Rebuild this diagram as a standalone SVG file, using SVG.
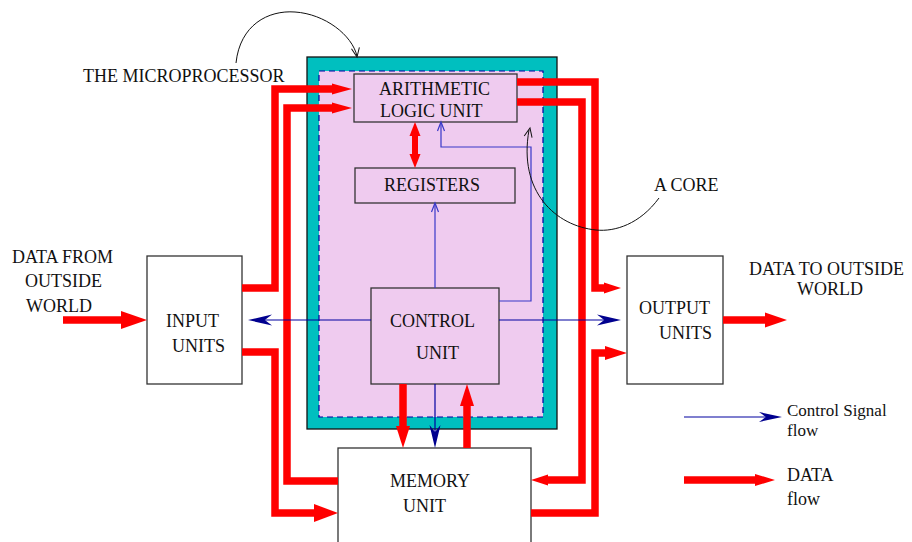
<svg xmlns="http://www.w3.org/2000/svg" xmlns:xlink="http://www.w3.org/1999/xlink" width="912" height="542" viewBox="0 0 912 542">
<style>
text{font-family:"Liberation Serif","Times New Roman",serif;font-size:18px;fill:#111}
.box{stroke:#333;stroke-width:1.3}
.pk{fill:#efcbef}
.wh{fill:#fff}
.red{fill:none;stroke:#ff0000;stroke-width:7.5;stroke-linejoin:miter;stroke-linecap:butt}
.blue{fill:none;stroke:#0000a0;stroke-width:1.2}
.blue2{fill:none;stroke:#3838c8;stroke-width:1.2}
.curve{fill:none;stroke:#111;stroke-width:1}
.sm{font-size:17px}
</style>
<defs>
<polygon id="rh" points="0,0 -1,-0.5 -1,0.5" fill="#ff0000"/>
<polygon id="bh" points="0,0 -1,-0.5 -0.7,0 -1,0.5" fill="#00008f"/>
<path id="ovb" d="M-9,-3.5 L0,0 L-9,3.5" fill="none" stroke="#3838c8" stroke-width="1.2"/>
<path id="ovk" d="M-9,-4 L0,0 L-9,4" fill="none" stroke="#111" stroke-width="1"/>
</defs>

<g id="microprocessor">
<rect x="307" y="57" width="250" height="372" fill="#00bfbf" stroke="#111" stroke-width="1.3"/>
<rect x="319" y="71" width="224" height="346" class="pk" stroke="#0000a0" stroke-width="1.2" stroke-dasharray="6,4"/>
</g>

<g id="alu"><rect x="354" y="74" width="163" height="48" class="box pk"/>
<text x="379" y="95">ARITHMETIC</text><text x="380" y="117">LOGIC UNIT</text></g>
<g id="registers"><rect x="355" y="168" width="160" height="35" class="box pk"/>
<text x="384" y="191">REGISTERS</text></g>
<g id="control"><rect x="371" y="288" width="128" height="96" class="box pk"/>
<text x="390" y="327">CONTROL</text><text x="416" y="359">UNIT</text></g>
<g id="memory"><rect x="338" y="448" width="193" height="110" class="box wh"/>
<text x="390" y="487">MEMORY</text><text x="403" y="512">UNIT</text></g>
<g id="input"><rect x="147" y="256" width="95" height="128" class="box wh"/>
<text x="166" y="327">INPUT</text><text x="172" y="352">UNITS</text></g>
<g id="output"><rect x="627" y="256" width="96" height="128" class="box wh"/>
<text x="639" y="314">OUTPUT</text><text x="659" y="339">UNITS</text></g>

<g id="labels">
<text x="83" y="82">THE MICROPROCESSOR</text>
<text x="654" y="191">A CORE</text>
<text x="12" y="263">DATA FROM</text>
<text x="25" y="287">OUTSIDE</text>
<text x="26" y="312">WORLD</text>
<text x="749" y="275">DATA TO OUTSIDE</text>
<text x="797" y="295">WORLD</text>
<text x="787" y="416" class="sm">Control Signal</text>
<text x="787" y="436" class="sm">flow</text>
<text x="787" y="481">DATA</text>
<text x="787" y="505">flow</text>
</g>

<g id="connectors">
<!-- red data flows -->
<path class="red" d="M242 288 H275 V89 H334"/>
<use xlink:href="#rh" transform="translate(352,89) scale(20,11)"/>
<path class="red" d="M338 481 H287 V108 H334"/>
<use xlink:href="#rh" transform="translate(352,108) scale(20,11)"/>
<path class="red" d="M242 352 H275 V513 H316"/>
<use xlink:href="#rh" transform="translate(338,513) scale(24,18)"/>
<path class="red" d="M517 82 H595 V288 H606"/>
<use xlink:href="#rh" transform="translate(621,288) scale(17,11)"/>
<path class="red" d="M517 102 H582 V480 H546"/>
<use xlink:href="#rh" transform="translate(531,480) rotate(180) scale(17,11)"/>
<path class="red" d="M531 513 H595 V353 H607"/>
<use xlink:href="#rh" transform="translate(627,353) scale(22,14)"/>
<path class="red" d="M63 320 H123"/>
<use xlink:href="#rh" transform="translate(147,320) scale(26,18)"/>
<path class="red" d="M723 320 H767"/>
<use xlink:href="#rh" transform="translate(787,320) scale(22,15)"/>
<path class="red" d="M403 384 V428"/>
<use xlink:href="#rh" transform="translate(403,448) rotate(90) scale(22,14)"/>
<path class="red" d="M467 448 V404"/>
<use xlink:href="#rh" transform="translate(467,384) rotate(-90) scale(22,14)"/>
<path class="red" style="stroke-width:6" d="M415 134 V157"/>
<use xlink:href="#rh" transform="translate(415,122) rotate(-90) scale(14,11)"/>
<use xlink:href="#rh" transform="translate(415,168) rotate(90) scale(14,11)"/>
<path class="red" d="M684 480 H757"/>
<use xlink:href="#rh" transform="translate(775,480) scale(20,12)"/>
<!-- blue control signals -->
<path class="blue" d="M371 320 H265"/>
<use xlink:href="#bh" transform="translate(248,320) rotate(180) scale(24,11)"/>
<path class="blue" d="M499 320 H604"/>
<use xlink:href="#bh" transform="translate(621,320) scale(24,11)"/>
<path class="blue" d="M435 384 V432"/>
<use xlink:href="#bh" transform="translate(435,448) rotate(90) scale(23,11)"/>
<path class="blue2" d="M435 288 V204"/>
<use xlink:href="#ovb" transform="translate(435,203) rotate(-90)"/>
<path class="blue2" d="M499 301 H531 V147 H441 V123"/>
<use xlink:href="#ovb" transform="translate(441,122) rotate(-90)"/>
<path class="blue" d="M684 417 H766"/>
<use xlink:href="#bh" transform="translate(782,417) scale(23,10)"/>
<!-- annotation curves -->
<path class="curve" d="M236 63 C240 25 268 10 295 12 C325 14 352 35 357 56"/>
<use xlink:href="#ovk" transform="translate(357,57) rotate(80)"/>
<path class="curve" d="M659 198 C640 224 615 232 596 230 C556 226 518 192 529 130"/>
<use xlink:href="#ovk" transform="translate(530,128) rotate(-78)"/>
</g>
</svg>
